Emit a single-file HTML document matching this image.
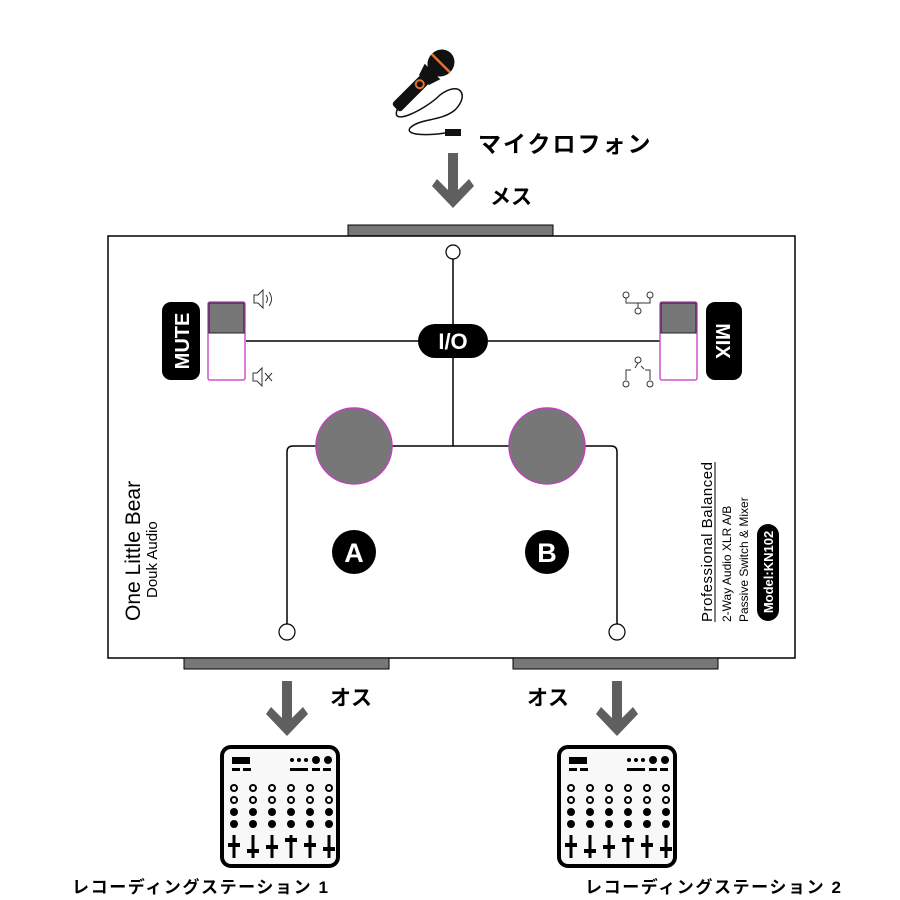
<!DOCTYPE html>
<html><head><meta charset="utf-8"><style>body{margin:0;background:#fff}svg{display:block}</style></head>
<body>
<svg width="900" height="900" viewBox="0 0 900 900" xmlns="http://www.w3.org/2000/svg" font-family="Liberation Sans, Noto Sans CJK JP, sans-serif">
<defs>
<g id="arr"><polygon points="-5,-57 5,-57 5,-20 16,-31 21,-24 0,-2 -21,-24 -16,-31 -5,-20" fill="#5f5f5f"/></g>
<g id="mixer">
<rect x="2" y="2" width="116" height="119" rx="9" fill="#f8f8f8" stroke="#000" stroke-width="4"/>
<rect x="12" y="12" width="18" height="7" fill="#000"/>
<rect x="12" y="23" width="8" height="3" fill="#000"/><rect x="23" y="23" width="8" height="3" fill="#000"/>
<circle cx="72" cy="15" r="2" fill="#000"/><circle cx="79" cy="15" r="2" fill="#000"/><circle cx="86" cy="15" r="2" fill="#000"/>
<circle cx="96" cy="15" r="4" fill="#000"/><circle cx="108" cy="15" r="4" fill="#000"/>
<rect x="70" y="23" width="18" height="3" fill="#000"/><rect x="92" y="23" width="8" height="3" fill="#000"/><rect x="103" y="23" width="8" height="3" fill="#000"/>
<g fill="none" stroke="#000" stroke-width="2">
<circle cx="14" cy="43" r="3"/><circle cx="33" cy="43" r="3"/><circle cx="52" cy="43" r="3"/><circle cx="71" cy="43" r="3"/><circle cx="90" cy="43" r="3"/><circle cx="109" cy="43" r="3"/>
<circle cx="14" cy="55" r="3"/><circle cx="33" cy="55" r="3"/><circle cx="52" cy="55" r="3"/><circle cx="71" cy="55" r="3"/><circle cx="90" cy="55" r="3"/><circle cx="109" cy="55" r="3"/>
</g>
<g fill="#000">
<circle cx="14" cy="67" r="4"/><circle cx="33" cy="67" r="4"/><circle cx="52" cy="67" r="4"/><circle cx="71" cy="67" r="4"/><circle cx="90" cy="67" r="4"/><circle cx="109" cy="67" r="4"/>
<circle cx="14" cy="79" r="4"/><circle cx="33" cy="79" r="4"/><circle cx="52" cy="79" r="4"/><circle cx="71" cy="79" r="4"/><circle cx="90" cy="79" r="4"/><circle cx="109" cy="79" r="4"/>
</g>
<g stroke="#000" stroke-width="3">
<line x1="14" y1="90" x2="14" y2="113"/><line x1="8" y1="100" x2="20" y2="100" stroke-width="4"/>
<line x1="33" y1="90" x2="33" y2="113"/><line x1="27" y1="106" x2="39" y2="106" stroke-width="4"/>
<line x1="52" y1="90" x2="52" y2="113"/><line x1="46" y1="102" x2="58" y2="102" stroke-width="4"/>
<line x1="71" y1="90" x2="71" y2="113"/><line x1="65" y1="95" x2="77" y2="95" stroke-width="4"/>
<line x1="90" y1="90" x2="90" y2="113"/><line x1="84" y1="100" x2="96" y2="100" stroke-width="4"/>
<line x1="109" y1="90" x2="109" y2="113"/><line x1="103" y1="104" x2="115" y2="104" stroke-width="4"/>
</g>
</g>
</defs>

<!-- microphone -->
<g transform="translate(424,80) rotate(45)">
<rect x="-6" y="-10" width="12" height="50" rx="3" fill="#111"/>
<path d="M-11,-12 L11,-12 L7,0 L-7,0 Z" fill="#111"/>
<ellipse cx="0" cy="-24" rx="13" ry="14" fill="#111"/>
<rect x="-13" y="-25" width="26" height="2.5" fill="#e8722a"/>
<circle cx="0" cy="6" r="4" fill="none" stroke="#e8722a" stroke-width="2"/>
</g>
<path d="M398,108 C388,128 425,110 440,95 C460,80 470,95 455,110 C440,122 420,118 410,128 C405,135 425,136 445,133" fill="none" stroke="#111" stroke-width="1.5"/>
<rect x="445" y="129" width="16" height="7" fill="#111"/>

<text x="478" y="152" font-size="23" font-weight="bold" letter-spacing="2">マイクロフォン</text>
<use href="#arr" x="453" y="210"/>
<text x="490" y="204" font-size="21" font-weight="bold">メス</text>

<!-- box -->
<rect x="348" y="225" width="205" height="11" fill="#777" stroke="#000" stroke-width="1"/>
<rect x="108" y="236" width="687" height="422" fill="#fff" stroke="#000" stroke-width="1.5"/>
<rect x="184" y="658" width="205" height="11" fill="#777" stroke="#000" stroke-width="1"/>
<rect x="513" y="658" width="205" height="11" fill="#777" stroke="#000" stroke-width="1"/>

<g stroke="#000" stroke-width="1.5" fill="none">
<line x1="453" y1="259" x2="453" y2="446"/>
<line x1="246" y1="341" x2="660" y2="341"/>
<path d="M287,624 L287,452 Q287,446 293,446 L611,446 Q617,446 617,452 L617,624"/>
</g>
<circle cx="453" cy="252" r="7" fill="#fff" stroke="#000" stroke-width="1.2"/>
<circle cx="287" cy="632" r="8" fill="#fff" stroke="#000" stroke-width="1.2"/>
<circle cx="617" cy="632" r="8" fill="#fff" stroke="#000" stroke-width="1.2"/>
<circle cx="354" cy="446" r="38" fill="#777" stroke="#c040c0" stroke-width="1.5"/>
<circle cx="547" cy="446" r="38" fill="#777" stroke="#c040c0" stroke-width="1.5"/>

<rect x="418" y="324" width="70" height="34" rx="17" fill="#000"/>
<text x="453" y="349" font-size="22" font-weight="bold" fill="#fff" text-anchor="middle">I/O</text>

<circle cx="354" cy="552" r="22" fill="#000"/>
<text x="354" y="562" font-size="27" font-weight="bold" fill="#fff" text-anchor="middle">A</text>
<circle cx="547" cy="552" r="22" fill="#000"/>
<text x="547" y="562" font-size="27" font-weight="bold" fill="#fff" text-anchor="middle">B</text>

<!-- mute -->
<rect x="162" y="302" width="38" height="78" rx="9" fill="#000"/>
<text transform="translate(189,341) rotate(-90)" font-size="20" font-weight="bold" fill="#fff" text-anchor="middle">MUTE</text>
<rect x="208" y="302" width="37" height="78" rx="2" fill="#fff" stroke="#d050d0" stroke-width="1.5"/>
<rect x="209" y="303" width="35" height="30" fill="#777" stroke="#222" stroke-width="1"/>
<g fill="none" stroke="#333" stroke-width="1"><path d="M253,373 h4 l5,-5 v18 l-5,-5 h-4 z"/><path d="M265,373 l7,8 M272,373 l-7,8"/><path d="M254,295 h4 l5,-5 v18 l-5,-5 h-4 z"/><path d="M266,295 q3,4 0,8 M269,292 q5,7 0,14"/></g>

<!-- mix -->
<rect x="706" y="302" width="36" height="78" rx="9" fill="#000"/>
<text transform="translate(716,341) rotate(90)" font-size="20" font-weight="bold" fill="#fff" text-anchor="middle">MIX</text>
<rect x="660" y="302" width="37" height="78" rx="2" fill="#fff" stroke="#d050d0" stroke-width="1.5"/>
<rect x="661" y="303" width="35" height="30" fill="#777" stroke="#222" stroke-width="1"/>
<g fill="none" stroke="#333" stroke-width="1">
<circle cx="626" cy="295" r="3"/><circle cx="650" cy="295" r="3"/><path d="M626,298 v5 h24 v-5 M638,303 v5"/><circle cx="638" cy="311" r="3"/>
<circle cx="638" cy="360" r="3"/><path d="M638,363 l-3,5 M641,366 l3,3 M626,380 v-10 h5 M650,380 v-10 h-5"/><circle cx="626" cy="384" r="3"/><circle cx="650" cy="384" r="3"/>
</g>

<!-- left text -->
<text transform="translate(140,621) rotate(-90)" font-size="21">One Little Bear</text>
<text transform="translate(157,598) rotate(-90)" font-size="15">Douk Audio</text>

<!-- right text -->
<text transform="translate(712,622) rotate(-90)" font-size="15" textLength="160">Professional Balanced</text>
<line x1="715" y1="462" x2="715" y2="622" stroke="#000" stroke-width="1"/>
<text transform="translate(731,622) rotate(-90)" font-size="12">2-Way Audio XLR A/B</text>
<text transform="translate(748,622) rotate(-90)" font-size="12">Passive Switch &amp; Mixer</text>
<rect x="757" y="524" width="22" height="97" rx="11" fill="#000"/>
<text transform="translate(773,572) rotate(-90)" font-size="13" font-weight="bold" fill="#fff" text-anchor="middle">Model:KN102</text>

<!-- outputs -->
<use href="#arr" x="287" y="738"/>
<text x="330" y="705" font-size="21" font-weight="bold">オス</text>
<use href="#arr" x="617" y="738"/>
<text x="527" y="705" font-size="21" font-weight="bold">オス</text>

<use href="#mixer" x="220" y="745"/>
<use href="#mixer" x="557" y="745"/>

<text x="72" y="893" font-size="17" font-weight="bold" textLength="256">レコーディングステーション 1</text>
<text x="585" y="893" font-size="17" font-weight="bold" textLength="256">レコーディングステーション 2</text>
</svg>
</body></html>
